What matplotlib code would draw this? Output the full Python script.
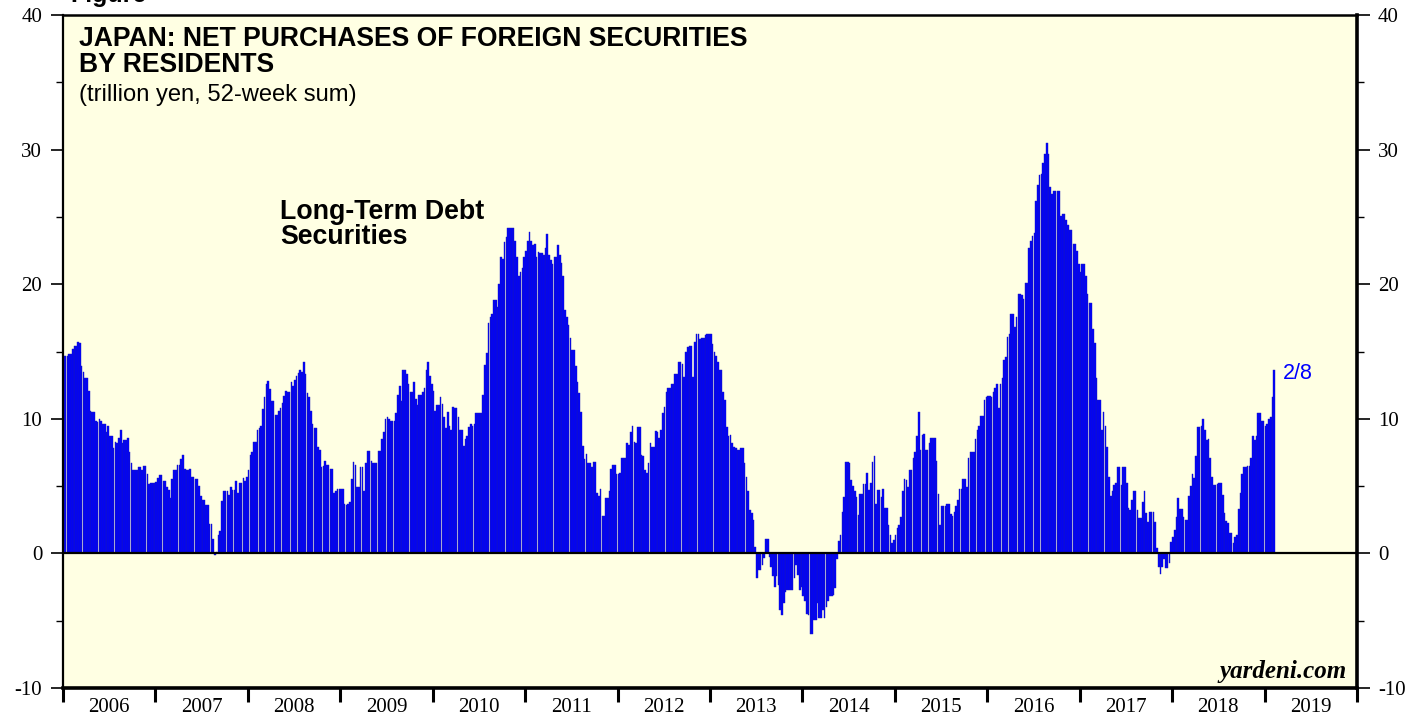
import matplotlib
matplotlib.use("Agg")
import matplotlib.pyplot as plt
from matplotlib.ticker import MultipleLocator

plt.rcParams['font.family'] = 'Liberation Serif'
plt.rcParams['axes.unicode_minus'] = False

# 52-week sum of net purchases of foreign long-term debt securities (trillion yen), weekly
years = list(range(2006, 2020))
y2006 = [14.7, 14.7, 14.7, 14.8, 14.8, 15.2, 15.4, 15.4, 15.7, 15.6, 13.9, 13.5, 13.0, 13.0, 12.1, 10.6, 10.5, 10.5, 9.8, 9.75,
         9.95, 9.8, 9.6, 9.6, 9.0, 9.45, 8.7, 8.7, 7.8, 8.3, 8.2, 8.6, 9.2, 8.2, 8.4, 8.4, 8.6, 7.5, 6.7, 6.2,
         6.2, 6.2, 6.4, 6.4, 6.2, 6.5, 6.5, 5.9, 5.15, 5.2, 5.2, 5.2]
y2007 = [5.3, 5.6, 5.85, 5.8, 5.4, 5.4, 4.9, 4.7, 4.1, 5.5, 6.2, 6.2, 6.6, 6.6, 7.0, 7.3, 6.3, 6.2, 6.2, 6.3,
         5.7, 5.7, 5.5, 5.5, 5.0, 4.3, 4.0, 4.0, 3.6, 3.6, 2.2, 2.2, 1.1, -0.1, 0.1, 1.4, 1.7, 3.9, 4.6, 4.6,
         4.6, 4.35, 4.9, 4.7, 4.7, 5.35, 4.5, 5.2, 5.2, 5.6, 5.35, 5.7]
y2008 = [6.2, 7.3, 7.5, 8.3, 8.3, 9.2, 9.3, 9.5, 10.7, 11.6, 12.6, 12.8, 12.2, 11.3, 11.3, 10.3, 10.3, 10.6, 10.8, 11.2,
         11.7, 12.1, 12.0, 12.0, 12.7, 12.4, 12.9, 13.2, 13.4, 13.6, 13.5, 14.2, 13.3, 11.9, 11.6, 10.6, 9.6, 9.3, 9.3, 7.9,
         7.7, 6.4, 6.5, 6.9, 6.6, 6.6, 6.3, 6.3, 4.5, 4.6, 4.8, 4.8]
y2009 = [4.8, 4.75, 3.7, 3.6, 3.7, 3.8, 5.5, 6.8, 6.6, 4.95, 4.95, 6.4, 6.4, 4.6, 6.7, 7.6, 7.6, 6.9, 6.7, 6.7,
         6.7, 7.6, 7.6, 8.5, 9.0, 10.0, 10.1, 10.0, 9.85, 9.85, 9.8, 10.4, 11.8, 12.4, 11.3, 13.6, 13.6, 13.3, 12.6, 12.0,
         12.0, 12.75, 11.5, 11.0, 11.8, 11.8, 12.0, 12.3, 13.6, 14.2, 13.2, 12.6]
y2010 = [12.1, 10.6, 11.0, 11.0, 11.6, 11.1, 10.1, 9.3, 10.5, 9.5, 9.2, 10.9, 10.8, 10.8, 10.1, 9.2, 9.2, 8.0, 8.5, 8.7,
         9.4, 9.6, 9.5, 9.6, 10.4, 10.4, 10.4, 10.4, 11.8, 14.0, 14.9, 17.1, 17.6, 17.8, 18.8, 18.8, 18.3, 20.0, 22.0, 21.9,
         23.1, 23.5, 24.2, 24.2, 24.2, 24.2, 23.2, 22.0, 20.6, 20.9, 21.2, 22.0]
y2011 = [22.5, 23.2, 23.9, 23.2, 22.9, 22.95, 22.0, 22.4, 22.3, 22.3, 22.2, 22.7, 23.7, 22.2, 21.8, 21.5, 22.0, 22.0, 22.9, 22.2,
         21.6, 20.6, 18.1, 17.6, 17.0, 16.0, 15.1, 15.1, 13.9, 12.7, 11.9, 10.5, 7.97, 6.98, 7.35, 6.7, 6.7, 6.4, 6.8, 6.8,
         4.5, 4.3, 4.8, 2.8, 2.8, 4.1, 4.1, 4.6, 6.3, 6.6, 6.6, 5.9]
y2012 = [5.9, 5.95, 7.1, 7.1, 7.1, 8.2, 8.05, 9.0, 9.5, 8.3, 8.2, 9.4, 9.4, 7.3, 7.2, 6.2, 5.95, 6.7, 8.2, 7.9,
         7.9, 9.1, 9.0, 8.6, 9.2, 10.4, 10.9, 12.0, 12.3, 12.3, 12.6, 12.6, 13.3, 13.3, 14.2, 14.2, 14.1, 13.1, 15.0, 15.35,
         15.4, 15.4, 13.1, 15.7, 16.3, 16.3, 15.9, 16.0, 16.0, 16.2, 16.3, 16.3]
y2013 = [16.3, 15.55, 15.0, 14.7, 14.2, 13.6, 13.6, 12.0, 11.4, 9.4, 8.7, 8.8, 8.2, 7.9, 7.8, 7.7, 7.7, 7.8, 7.8, 6.7,
         5.7, 4.6, 3.2, 3.0, 2.5, 0.5, -1.86, -1.24, -1.2, -0.87, -0.37, 1.1, 1.1, -0.25, -1.0, -1.7, -2.5, -1.7, -2.35, -4.2,
         -4.6, -3.7, -2.85, -2.7, -2.7, -2.7, -2.7, -1.86, -0.87, -1.6, -2.7, -2.5]
y2014 = [-3.2, -3.5, -4.5, -4.6, -6.0, -6.0, -4.95, -4.95, -3.7, -4.8, -4.8, -4.2, -4.8, -4.0, -3.5, -3.2, -3.2, -3.1, -2.6, -0.4,
         0.9, 1.4, 3.1, 4.2, 6.8, 6.8, 6.7, 5.45, 5.0, 4.6, 4.2, 2.85, 4.4, 4.45, 5.15, 5.15, 6.0, 4.7, 5.25, 6.8,
         7.2, 3.7, 4.7, 4.7, 4.2, 4.8, 3.4, 3.35, 2.1, 1.4, 0.74, 1.0]
y2015 = [1.4, 1.86, 2.1, 2.7, 4.65, 5.5, 5.45, 4.9, 6.2, 6.2, 7.1, 7.55, 8.7, 10.5, 7.7, 8.8, 8.9, 7.7, 7.7, 8.2,
         8.6, 8.6, 8.6, 6.9, 4.4, 2.1, 3.5, 3.5, 3.5, 3.7, 3.7, 2.9, 2.8, 3.1, 3.5, 3.96, 4.75, 4.75, 5.5, 5.5,
         4.9, 7.06, 7.55, 7.55, 7.55, 8.5, 9.2, 9.5, 10.2, 10.2, 11.4, 11.6]
y2016 = [11.7, 11.7, 11.6, 12.0, 12.3, 12.6, 10.8, 12.6, 13.0, 14.4, 14.6, 16.1, 16.3, 17.8, 17.8, 16.8, 17.6, 19.3, 19.3, 19.2,
         18.9, 20.1, 20.1, 22.7, 23.2, 23.6, 23.8, 26.2, 27.4, 28.1, 28.2, 29.0, 29.7, 30.5, 29.7, 27.2, 26.7, 26.9, 26.9, 26.9,
         26.9, 25.1, 25.2, 25.2, 24.8, 24.4, 24.0, 24.0, 23.0, 23.0, 22.5, 21.5]
y2017 = [20.9, 21.5, 21.5, 20.6, 19.3, 18.6, 18.6, 16.7, 15.6, 13.0, 11.4, 11.4, 9.2, 10.5, 9.5, 7.9, 5.65, 4.3, 4.6, 5.1,
         5.2, 6.4, 6.4, 5.1, 6.4, 6.4, 5.2, 3.4, 3.2, 4.0, 4.65, 4.65, 3.2, 2.6, 2.6, 3.8, 4.65, 3.0, 2.3, 3.1,
         3.1, 3.1, 2.3, 0.4, -1.0, -1.5, -1.0, -0.4, -1.1, -1.1, -0.74, 0.87]
y2018 = [1.2, 1.73, 2.67, 4.1, 3.27, 3.27, 2.72, 2.5, 2.48, 4.26, 5.0, 5.9, 5.57, 7.2, 9.4, 9.4, 9.5, 9.96, 9.2, 8.4,
         8.47, 7.06, 5.7, 5.08, 5.08, 5.15, 5.25, 5.25, 4.33, 2.97, 2.43, 2.23, 1.54, 1.54, 0.74, 1.24, 1.36, 3.27, 4.5, 5.9,
         6.4, 6.4, 6.5, 6.5, 7.06, 8.7, 8.4, 8.7, 10.45, 10.45, 9.8, 9.8]
y2019 = [9.5, 9.6, 9.96, 10.15, 11.6, 13.6]

weekly = [y2006, y2007, y2008, y2009, y2010, y2011, y2012, y2013,
          y2014, y2015, y2016, y2017, y2018, y2019]

x = []
vals = []
for yr, arr in zip(years, weekly):
    for k, v in enumerate(arr):
        x.append(yr + k / 52)
        vals.append(v)

W, H = 1427, 719
fig = plt.figure(figsize=(W / 100, H / 100), dpi=100)
ax = fig.add_axes([63 / W, 1 - 688 / H, 1294 / W, 673 / H])
ax.set_facecolor('#FFFFE3')

ax.bar(x, vals, width=0.92 / 52, align='edge', color='#0000FF',
       edgecolor='#1818B8', linewidth=0.3, zorder=2)
ax.axhline(0, color='black', lw=1.6, zorder=3)

ax.set_xlim(2006, 2020)
ax.set_ylim(-10, 40)

# y axes on both sides
ax.yaxis.set_major_locator(MultipleLocator(10))
ax.yaxis.set_minor_locator(MultipleLocator(5))
ax.tick_params(axis='y', which='major', direction='out', length=9, width=1.2,
               left=True, right=True, labelleft=True, labelright=True,
               labelsize=15, pad=6)
ax.tick_params(axis='y', which='minor', direction='out', length=5, width=1.0,
               left=True, right=True)

# years: ticks on boundaries, labels centred
ax.set_xticks(list(range(2006, 2021)))
ax.set_xticklabels([])
ax.set_xticks([y + 0.5 for y in years], minor=True)
ax.set_xticklabels([str(y) for y in years], minor=True)
ax.tick_params(axis='x', which='major', direction='out', length=10, width=2.2)
ax.tick_params(axis='x', which='minor', length=0, labelsize=15, pad=7)

ax.spines['left'].set_linewidth(1.6)
ax.spines['top'].set_linewidth(1.8)
ax.spines['bottom'].set_linewidth(2.6)
ax.spines['right'].set_linewidth(2.6)

sans = 'Liberation Sans'
fig.text(79 / W, 1 - 46 / H, 'JAPAN: NET PURCHASES OF FOREIGN SECURITIES',
         family=sans, weight='bold', fontsize=19.1, va='baseline')
fig.text(79 / W, 1 - 72 / H, 'BY RESIDENTS',
         family=sans, weight='bold', fontsize=19.1, va='baseline')
fig.text(79 / W, 1 - 101 / H, '(trillion yen, 52-week sum)',
         family=sans, fontsize=17.1, va='baseline')
fig.text(280 / W, 1 - 219 / H, 'Long-Term Debt',
         family=sans, weight='bold', fontsize=19.3, va='baseline')
fig.text(280 / W, 1 - 244 / H, 'Securities',
         family=sans, weight='bold', fontsize=19.3, va='baseline')
fig.text(1283 / W, 1 - 379 / H, '2/8', family=sans, fontsize=15.5,
         color='#0000FF', va='baseline')
fig.text(1347 / W, 1 - 678 / H, 'yardeni.com', fontsize=18,
         weight='bold', style='italic', ha='right', va='baseline')
fig.text(70 / W, 1 - 2 / H, 'Figure', family=sans, weight='bold',
         fontsize=18, va='baseline')

fig.savefig('out.png', dpi=100)
